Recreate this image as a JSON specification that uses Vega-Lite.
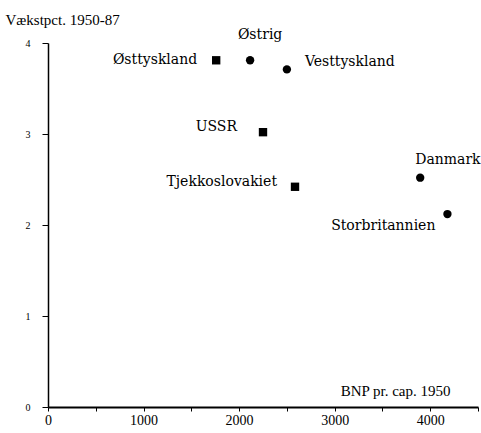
{
  "$schema": "https://vega.github.io/schema/vega-lite/v6.json",
  "autosize": "none",
  "width": 430,
  "height": 364,
  "padding": {"left": 48, "top": 43, "right": 3, "bottom": 26},
  "background": "white",
  "config": {
    "view": {"stroke": null},
    "font": "Liberation Serif",
    "axis": {"grid": false, "domainColor": "black", "tickColor": "black", "labelColor": "black", "titleColor": "black", "labelFont": "Liberation Serif", "titleFont": "Liberation Serif", "titleFontWeight": "normal"}
  },
  "data": {
    "values": [
      {"land": "Østtyskland", "bnp": 1760, "vaekst": 3.81, "blok": "Øst"},
      {"land": "Østrig", "bnp": 2115, "vaekst": 3.81, "blok": "Vest"},
      {"land": "Vesttyskland", "bnp": 2500, "vaekst": 3.71, "blok": "Vest"},
      {"land": "USSR", "bnp": 2250, "vaekst": 3.02, "blok": "Øst"},
      {"land": "Tjekkoslovakiet", "bnp": 2585, "vaekst": 2.42, "blok": "Øst"},
      {"land": "Danmark", "bnp": 3895, "vaekst": 2.52, "blok": "Vest"},
      {"land": "Storbritannien", "bnp": 4180, "vaekst": 2.12, "blok": "Vest"}
    ]
  },
  "encoding": {
    "x": {
      "field": "bnp", "type": "quantitative",
      "scale": {"domain": [0, 4500], "nice": false},
      "axis": {
        "values": [0, 500, 1000, 1500, 2000, 2500, 3000, 3500, 4000, 4500],
        "labelExpr": "datum.value % 1000 === 0 ? datum.label : ''",
        "format": "d",
        "title": "BNP pr. cap. 1950",
        "titleFontSize": 15,
        "titleAlign": "right",
        "titleAnchor": null,
        "titleX": 402,
        "titleY": -12,
        "titleBaseline": "alphabetic",
        "labelFontSize": 14,
        "tickSize": 4,
        "labelPadding": 2,
        "domainWidth": 2,
        "labelFlush": false
      }
    },
    "y": {
      "field": "vaekst", "type": "quantitative",
      "scale": {"domain": [0, 4], "nice": false},
      "axis": {
        "values": [0, 0.5, 1, 1.5, 2, 2.5, 3, 3.5, 4],
        "labelExpr": "datum.value % 1 === 0 ? datum.label : ''",
        "format": "d",
        "title": "Vækstpct. 1950-87",
        "titleAngle": 0,
        "titleFontSize": 15,
        "titleAlign": "left",
        "titleAnchor": null,
        "titleX": -43,
        "titleY": -19,
        "titleBaseline": "alphabetic",
        "labelFontSize": 10,
        "tickSize": 6,
        "labelPadding": 12,
        "domainWidth": 1.5
      }
    }
  },
  "layer": [
    {
      "mark": {"type": "point", "filled": true, "opacity": 1, "color": "black", "size": 70},
      "encoding": {
        "shape": {"field": "blok", "type": "nominal", "scale": {"domain": ["Øst", "Vest"], "range": ["square", "circle"]}, "legend": null}
      }
    },
    {
      "transform": [{"filter": "datum.land === 'Østtyskland'"}],
      "mark": {"type": "text", "font": "DejaVu Serif", "fontSize": 14, "color": "black", "align": "right", "baseline": "middle", "dx": -19, "dy": 0},
      "encoding": {"text": {"field": "land", "type": "nominal"}}
    },
    {
      "transform": [{"filter": "datum.land === 'Østrig'"}],
      "mark": {"type": "text", "font": "DejaVu Serif", "fontSize": 14, "color": "black", "align": "center", "baseline": "middle", "dx": 10, "dy": -25},
      "encoding": {"text": {"field": "land", "type": "nominal"}}
    },
    {
      "transform": [{"filter": "datum.land === 'Vesttyskland'"}],
      "mark": {"type": "text", "font": "DejaVu Serif", "fontSize": 14, "color": "black", "align": "left", "baseline": "middle", "dx": 18, "dy": -7},
      "encoding": {"text": {"field": "land", "type": "nominal"}}
    },
    {
      "transform": [{"filter": "datum.land === 'USSR'"}],
      "mark": {"type": "text", "font": "DejaVu Serif", "fontSize": 14, "color": "black", "align": "right", "baseline": "middle", "dx": -26, "dy": -5},
      "encoding": {"text": {"field": "land", "type": "nominal"}}
    },
    {
      "transform": [{"filter": "datum.land === 'Tjekkoslovakiet'"}],
      "mark": {"type": "text", "font": "DejaVu Serif", "fontSize": 14, "color": "black", "align": "right", "baseline": "middle", "dx": -18, "dy": -5},
      "encoding": {"text": {"field": "land", "type": "nominal"}}
    },
    {
      "transform": [{"filter": "datum.land === 'Danmark'"}],
      "mark": {"type": "text", "font": "DejaVu Serif", "fontSize": 14, "color": "black", "align": "left", "baseline": "middle", "dx": -5, "dy": -18},
      "encoding": {"text": {"field": "land", "type": "nominal"}}
    },
    {
      "transform": [{"filter": "datum.land === 'Storbritannien'"}],
      "mark": {"type": "text", "font": "DejaVu Serif", "fontSize": 14, "color": "black", "align": "right", "baseline": "middle", "dx": -12, "dy": 12},
      "encoding": {"text": {"field": "land", "type": "nominal"}}
    }
  ]
}
